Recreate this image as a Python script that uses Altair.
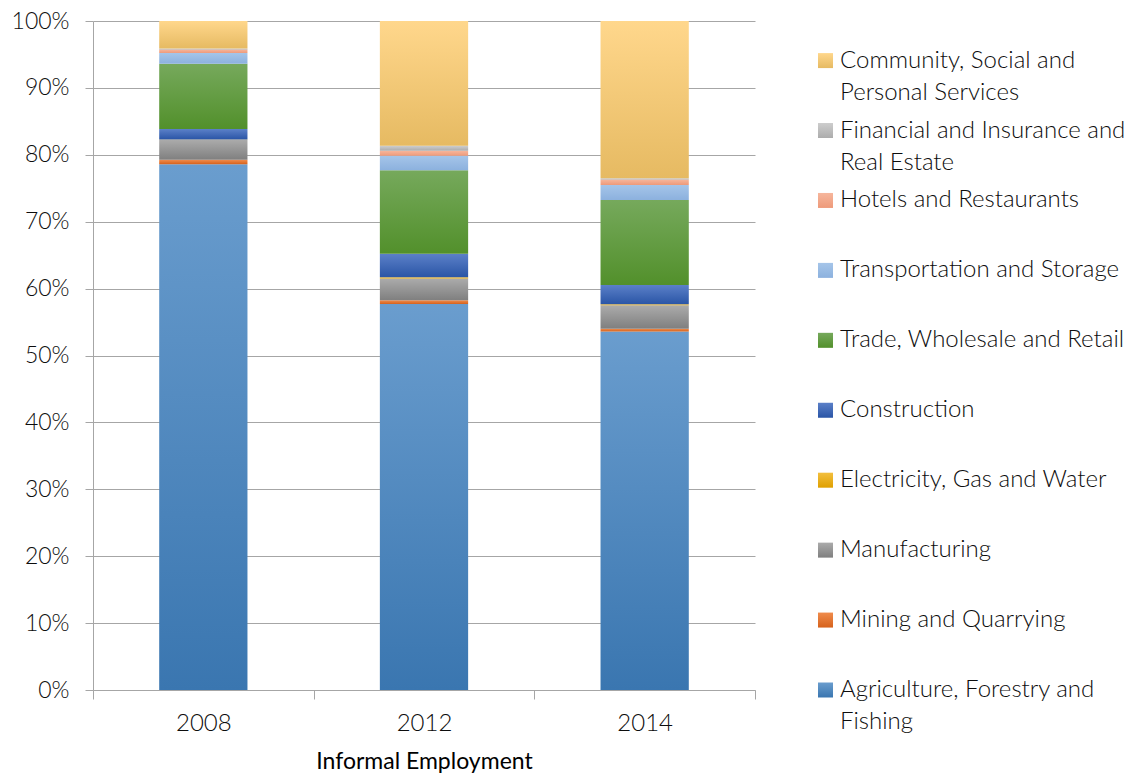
import altair as alt
import pandas as pd

years = ["2008", "2012", "2014"]

sectors = [
    "Agriculture, Forestry and Fishing",
    "Mining and Quarrying",
    "Manufacturing",
    "Electricity, Gas and Water",
    "Construction",
    "Trade, Wholesale and Retail",
    "Transportation and Storage",
    "Hotels and Restaurants",
    "Financial and Insurance and Real Estate",
    "Community, Social and Personal Services",
]
legend_labels = [
    "Agriculture, Forestry and\nFishing",
    "Mining and Quarrying",
    "Manufacturing",
    "Electricity, Gas and Water",
    "Construction",
    "Trade, Wholesale and Retail",
    "Transportation and Storage",
    "Hotels and Restaurants",
    "Financial and Insurance and\nReal Estate",
    "Community, Social and\nPersonal Services",
]

# percent share of informal employment, per year (2008, 2012, 2014)
agriculture = [78.6, 57.7, 53.6]
mining = [0.65, 0.55, 0.4]
manufacturing = [3.0, 3.25, 3.5]
electricity = [0.05, 0.2, 0.15]
construction = [1.55, 3.5, 2.9]
trade = [9.75, 12.5, 12.7]
transport = [1.6, 2.15, 2.25]
hotels = [0.55, 0.75, 0.8]
financial = [0.15, 0.75, 0.2]
community = [4.1, 18.65, 23.5]

series_values = [agriculture, mining, manufacturing, electricity, construction,
                 trade, transport, hotels, financial, community]

# gradient colours (top, bottom) per sector
colors = [
    ("#6a9dce", "#3a76b0"),
    ("#f08c4c", "#d6621c"),
    ("#ababab", "#7f7f7f"),
    ("#f3bf3e", "#dfa000"),
    ("#5b80c8", "#2a55a6"),
    ("#76a95c", "#52902b"),
    ("#a5c5e9", "#8cb1de"),
    ("#f6b69c", "#ee9a7a"),
    ("#cdcdcd", "#acacac"),
    ("#ffd78c", "#e6ba62"),
]

rows = []
for i, (name, vals) in enumerate(zip(sectors, series_values)):
    for y, v in zip(years, vals):
        rows.append({"year": y, "sector": name, "idx": i, "value": v})
df = pd.DataFrame(rows)

leg_df = pd.DataFrame({"label": legend_labels, "idx": list(range(len(sectors)))})


def grad(top, bottom):
    return alt.LinearGradient(
        gradient="linear", x1=0, y1=0, x2=0, y2=1,
        stops=[alt.GradientStop(offset=0, color=top),
               alt.GradientStop(offset=1, color=bottom)],
    )


FONT = "Lato"
TXT = "#0d0d0d"
GRID = "#a6a6a6"
FS = 24

base = alt.Chart(df).transform_stack(
    stack="value", groupby=["year"], as_=["y0", "y1"],
    sort=[alt.SortField("idx", order="ascending")], offset="normalize",
)

x_enc = alt.X(
    "year:N",
    scale=alt.Scale(paddingInner=0, paddingOuter=0),
    axis=alt.Axis(
        title="Informal Employment", labelAngle=0, tickBand="extent",
        domainColor=GRID, tickColor=GRID, tickSize=9, grid=False,
        labelFont=FONT, labelFontSize=FS, labelFontWeight=300, labelColor=TXT,
        labelPadding=12, titleFont=FONT, titleFontSize=23,
        titleFontWeight="normal", titleColor="#000000", titlePadding=15,
    ),
)
y_enc = alt.Y(
    "y0:Q",
    scale=alt.Scale(domain=[0, 1]),
    axis=alt.Axis(
        title=None, format="%", tickCount=10, domainColor=GRID,
        tickColor=GRID, tickSize=8, gridColor=GRID, labelFont=FONT,
        labelFontSize=23, labelFontWeight=300, labelColor=TXT,
        labelPadding=16, minExtent=83, maxExtent=83,
    ),
)

layers = []
for i in range(len(sectors)):
    layers.append(
        base.transform_filter(alt.datum.idx == i)
        .mark_bar(width={"band": 0.4}, color=grad(*colors[i]))
        .encode(x=x_enc, y=y_enc, y2="y1:Q")
    )
bars = alt.layer(*layers).properties(width=662, height=669)

leg_y = alt.Y(
    "idx:O", sort="descending", axis=None,
    scale=alt.Scale(type="point", padding=0.283, align=1),
)
leg_layers = []
for i in range(len(sectors)):
    leg_layers.append(
        alt.Chart(leg_df).transform_filter(alt.datum.idx == i)
        .mark_square(size=225, opacity=1, color=grad(*colors[i]))
        .encode(x=alt.value(69.5), y=leg_y)
    )
leg_text = alt.Chart(leg_df).mark_text(
    align="left", baseline="top", dy=-12, lineBreak="\n", lineHeight=32,
    font=FONT, fontSize=FS, fontWeight=300, color=TXT,
).encode(x=alt.value(84), y=leg_y, text="label:N")
legend = alt.layer(*leg_layers, leg_text).properties(width=375, height=669)

chart = alt.hconcat(bars, legend, spacing=0).configure(
    padding={"left": 2, "top": 2, "right": 0, "bottom": 0}
).configure_view(stroke=None)

chart.save("out.html", embed_options={"renderer": "svg", "actions": False})
